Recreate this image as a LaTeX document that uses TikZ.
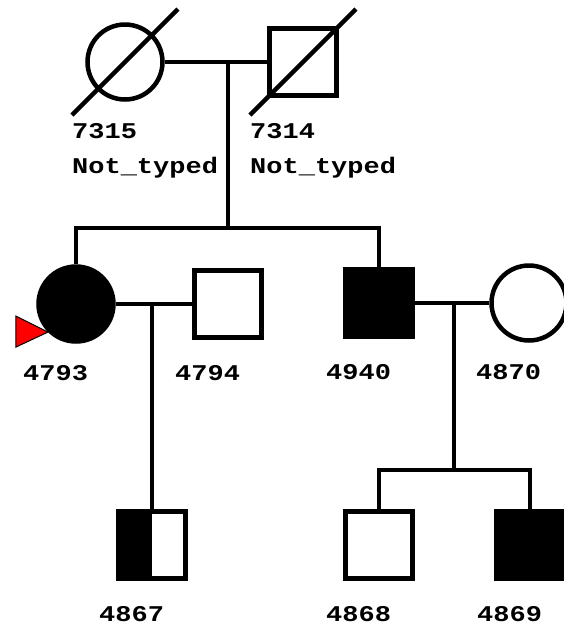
\documentclass[tikz,border=0pt]{standalone}
\usepackage{fontspec}
\newfontfamily\idfont[FakeStretch=1.2]{Liberation Mono}
\usepackage{tikz}

\tikzset{
    person/.style={draw, line width=4.5pt, inner sep=0pt},
    male/.style={person, rectangle, minimum size=67pt},
    female/.style={person, circle, minimum size=75pt},
    affected/.style={fill=black},
    idlabel/.style={anchor=west, inner sep=0pt, font=\idfont\bfseries\fontsize{22.5}{22.5}\selectfont},
    link/.style={line width=4.5pt}
}

\begin{document}
\begin{tikzpicture}[x=1pt, y=-1pt]
\useasboundingbox (0,0) rectangle (564,630);
% generation I
\node[female] (p7315) at (125,62) {};
\node[male]   (p7314) at (303,62) {};
\draw[link] (p7315.center) ++(-53,53) -- ++(106,-106);
\draw[link] (p7314.center) ++(-53,53) -- ++(106,-106);
\draw[link] (p7315.east) -- (p7314.west);
\coordinate (m1) at (228,62);
\coordinate (s1) at (228,228);
\draw[link] (m1) -- (s1);
% generation II
\node[female, affected] (p4793) at (76,304) {};
\node[male]             (p4794) at (228,304) {};
\node[male, affected]   (p4940) at (379,303) {};
\node[female]           (p4870) at (529,303) {};
\draw[link] (p4793.north) |- (s1) -| (p4940.north);
\draw[link] (p4793.east) -- (p4794.west);
\draw[link] (p4940.east) -- (p4870.west);
\draw[fill=red, line width=1pt] (p4793.225) -- ++(-32,-16) -- ++(0,31) -- cycle;
% generation III
\node[male, path picture={\fill (path picture bounding box.south west) rectangle (path picture bounding box.north);}] (p4867) at (152,545) {};
\node[male]           (p4868) at (379,545) {};
\node[male, affected] (p4869) at (530,545) {};
\coordinate (m2) at (152,304);
\coordinate (m3) at (454,303);
\coordinate (s3) at (454,470);
\draw[link] (m2) -- (p4867.north);
\draw[link] (m3) -- (s3);
\draw[link] (p4868.north) |- (s3) -| (p4869.north);
% labels
\foreach \p in {7315,7314,4793,4794,4940,4870,4867,4868,4869}{
    \node[idlabel] (t\p) at ([xshift=-53pt, yshift=-69pt]p\p.center) {\p};
}
\node[idlabel] (n7315) at ([yshift=-37pt]t7315.west) {Not\_typed};
\node[idlabel] (n7314) at ([yshift=-37pt]t7314.west) {Not\_typed};
\end{tikzpicture}
\end{document}
